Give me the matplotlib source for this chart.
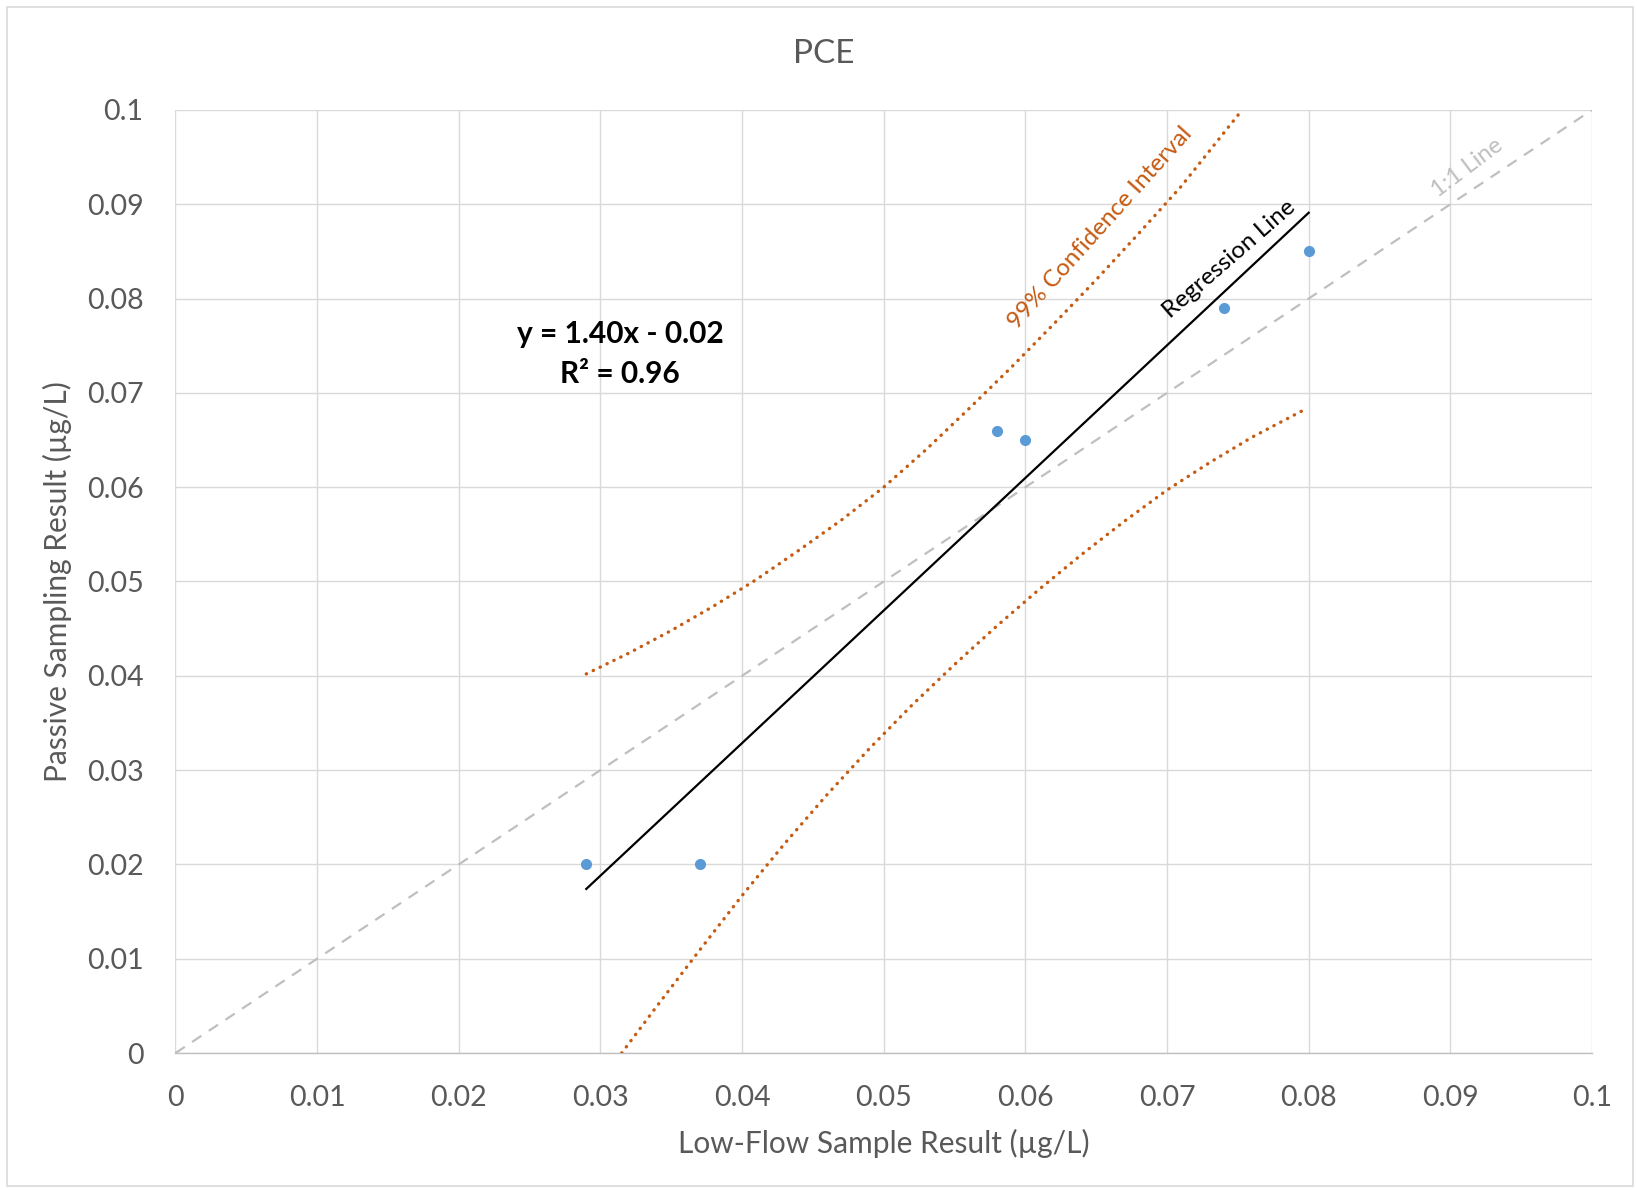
import matplotlib
matplotlib.use('Agg')
import matplotlib.pyplot as plt
from matplotlib.patches import Rectangle

plt.rcParams['font.family'] = ['Lato', 'DejaVu Sans']

# measured data
low_flow = [0.029, 0.037, 0.058, 0.060, 0.074, 0.080]
passive = [0.020, 0.020, 0.066, 0.065, 0.079, 0.085]

# regression line end points (y = 1.40x - 0.02)
reg_x = [0.029, 0.080]
reg_y = [0.0174, 0.0891]

# 1:1 line
one_x = [0.0, 0.1]
one_y = [0.0, 0.1]

# 99% confidence band
ci_up_x = [0.029, 0.032, 0.035, 0.038, 0.041, 0.044, 0.047, 0.050, 0.053, 0.056,
           0.059, 0.062, 0.065, 0.068, 0.071, 0.0753]
ci_up_y = [0.0402, 0.0424, 0.0448, 0.0474, 0.0502, 0.0533, 0.0565, 0.0600, 0.0640, 0.0683,
           0.0727, 0.0773, 0.0820, 0.0869, 0.0919, 0.1000]
ci_lo_x = [0.0315, 0.034, 0.037, 0.040, 0.043, 0.046, 0.049, 0.052, 0.055, 0.058,
           0.061, 0.064, 0.067, 0.070, 0.073, 0.076, 0.0798]
ci_lo_y = [0.0, 0.0050, 0.0109, 0.0167, 0.0222, 0.0274, 0.0323, 0.0369, 0.0412, 0.0453,
           0.0492, 0.0529, 0.0564, 0.0597, 0.0626, 0.0653, 0.0683]

ticks = [0, 0.01, 0.02, 0.03, 0.04, 0.05, 0.06, 0.07, 0.08, 0.09, 0.1]
tick_labels = ['0', '0.01', '0.02', '0.03', '0.04', '0.05', '0.06', '0.07', '0.08', '0.09', '0.1']

txt = '#595959'
orange = '#C55A11'

fig = plt.figure(figsize=(16.37, 11.9), dpi=100)
fig.patches.append(Rectangle((7/1637, 4/1190), 1626/1637, 1179/1190, transform=fig.transFigure,
                             fill=False, edgecolor='#D9D9D9', lw=1.2))
ax = fig.add_axes([0.1072, 0.1151, 0.8653, 0.7925])

ax.plot(one_x, one_y, color='#BFBFBF', lw=1.6, linestyle=(0, (5, 4)), zorder=2)
ax.plot(ci_up_x, ci_up_y, color=orange, lw=2.4, linestyle=(0, (0.1, 2.2)),
        dash_capstyle='round', zorder=3)
ax.plot(ci_lo_x, ci_lo_y, color=orange, lw=2.4, linestyle=(0, (0.1, 2.2)),
        dash_capstyle='round', zorder=3)
ax.plot(reg_x, reg_y, color='black', lw=1.6, zorder=4)
ax.plot(low_flow, passive, 'o', color='#5B9BD5', markersize=7, zorder=5)

ax.set_xlim(0, 0.1)
ax.set_ylim(0, 0.1)
ax.set_xticks(ticks)
ax.set_yticks(ticks)
ax.set_xticklabels(tick_labels)
ax.set_yticklabels(tick_labels)
ax.tick_params(length=0, labelsize=20.5, labelcolor=txt)
ax.tick_params(axis='x', pad=23)
ax.tick_params(axis='y', pad=23)
ax.grid(True, color='#D9D9D9', lw=1.0)
ax.set_axisbelow(True)
for s in ['top', 'right', 'left']:
    ax.spines[s].set_visible(False)
ax.spines['bottom'].set_color('#BFBFBF')
ax.spines['bottom'].set_linewidth(1.0)

ax.set_xlabel('Low-Flow Sample Result (µg/L)', fontsize=21.5, color=txt)
ax.set_ylabel('Passive Sampling Result (µg/L)', fontsize=21.5, color=txt)
ax.xaxis.set_label_coords(0.5, -0.0954)
ax.yaxis.set_label_coords(-0.083, 0.5)
ax.xaxis.label.set_va('center')
ax.yaxis.label.set_va('center')

fig.text(0.503, 0.955, 'PCE', fontsize=24, color=txt, ha='center', va='center')

ax.text(0.0314, 0.0741, 'y = 1.40x - 0.02\nR² = 0.96', fontsize=21.5, fontweight='bold',
        ha='center', va='center', linespacing=1.5, color='black')
ax.text(0.0744, 0.0842, 'Regression Line', fontsize=17.5, rotation=41,
        ha='center', va='center', rotation_mode='anchor', color='black')
ax.text(0.0653, 0.0875, '99% Confidence Interval', fontsize=17.5, rotation=48,
        ha='center', va='center', rotation_mode='anchor', color=orange)
ax.text(0.0912, 0.0939, '1:1 Line', fontsize=17, rotation=37,
        ha='center', va='center', rotation_mode='anchor', color='#BFBFBF')

fig.savefig('out.png', dpi=100)
